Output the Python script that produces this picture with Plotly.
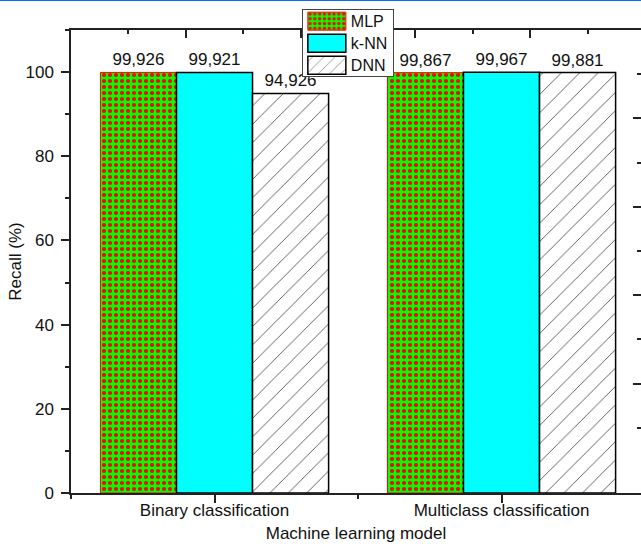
import plotly.graph_objects as go

# Recall (%) of each model for the two classification tasks
categories = ["Binary classification", "Multiclass classification"]
models = ["MLP", "k-NN", "DNN"]
recall = {
    "MLP": [99.926, 99.867],
    "k-NN": [99.921, 99.967],
    "DNN": [94.926, 99.881],
}

FONT = "Liberation Sans, Arial, sans-serif"
positions = list(range(len(categories)))

styles = {
    "MLP": dict(color="#00FF00",
                line=dict(color="#FF0000", width=1),
                pattern=dict(shape=".", fgcolor="#FF0000", bgcolor="#00FF00",
                             size=6, solidity=0.38, fillmode="replace")),
    "k-NN": dict(color="#00FFFF", line=dict(color="#000000", width=1.5)),
    "DNN": dict(color="#FFFFFF",
                line=dict(color="#000000", width=1.5),
                pattern=dict(shape="/", fgcolor="#555555", bgcolor="#FFFFFF",
                             size=13, solidity=0.07, fillmode="replace")),
}

fig = go.Figure()
for m in models:
    fig.add_trace(go.Bar(
        name=m, x=positions, y=recall[m],
        marker=styles[m],
        text=recall[m], texttemplate="%{y:.3f}", textposition="outside",
        textfont=dict(family=FONT, size=17, color="#111111"),
        cliponaxis=False,
    ))

# carrier trace so the top and right frame axes are drawn
fig.add_trace(go.Scatter(x=[None], y=[None], xaxis="x2", yaxis="y2",
                         showlegend=False, hoverinfo="skip"))

x_range = [-0.5, 1.486]

fig.update_layout(
    width=641, height=544,
    margin=dict(l=71, r=0, t=30, b=51),
    paper_bgcolor="white", plot_bgcolor="white",
    separators=",.",
    barmode="group", bargap=0.205, bargroupgap=0,
    font=dict(family=FONT, size=17, color="#111111"),
    showlegend=True,
    legend=dict(x=0.405, y=1.045, xanchor="left", yanchor="top",
                bgcolor="white", bordercolor="#444444", borderwidth=1,
                font=dict(family=FONT, size=16, color="#111111"),
                itemwidth=38, tracegroupgap=0),
    xaxis=dict(range=x_range, tickmode="array", tickvals=positions,
               ticktext=categories, ticks="outside", ticklen=8, tickwidth=1.5,
               tickcolor="#222222", showline=True, linecolor="#222222",
               linewidth=1.5, showgrid=False, zeroline=False,
               ticklabelstandoff=-7,
               minor=dict(tick0=-0.5, dtick=1, ticks="outside", ticklen=4,
                          tickwidth=1.5, tickcolor="#222222", showgrid=False),
               title=dict(text="Machine learning model", standoff=8,
                          font=dict(family=FONT, size=17)),
               tickfont=dict(family=FONT, size=17)),
    yaxis=dict(range=[0, 110], tickmode="linear", tick0=0, dtick=20,
               ticks="outside", ticklen=8, tickwidth=1.5, tickcolor="#222222",
               showline=True, linecolor="#222222", linewidth=1.5,
               showgrid=False, zeroline=False, ticklabelstandoff=4,
               minor=dict(dtick=10, ticks="outside", ticklen=4, tickwidth=1.5,
                          tickcolor="#222222", showgrid=False),
               title=dict(text="Recall (%)", standoff=0,
                          font=dict(family=FONT, size=17)),
               tickfont=dict(family=FONT, size=17)),
    xaxis2=dict(overlaying="x", side="top", anchor="y", range=x_range,
                tickmode="linear", tick0=-0.5, dtick=0.4, ticks="inside",
                ticklen=8, tickwidth=1.5, tickcolor="#222222",
                showticklabels=False, showline=True, linecolor="#222222",
                linewidth=1.5, showgrid=False, zeroline=False,
                minor=dict(tick0=-0.5, dtick=0.2, ticks="inside", ticklen=4,
                           tickwidth=1.5, tickcolor="#222222", showgrid=False)),
    yaxis2=dict(overlaying="y", side="right", anchor="x", range=[0, 110],
                tickmode="array", tickvals=[26, 47, 68, 89],
                ticks="inside", ticklen=8, tickwidth=1.5, tickcolor="#222222",
                showticklabels=False, showline=False, showgrid=False,
                zeroline=False,
                minor=dict(tickvals=[15.5, 36.5, 57.5, 78.5, 99.5],
                           ticks="inside", ticklen=4, tickwidth=1.5,
                           tickcolor="#222222", showgrid=False)),
    shapes=[dict(type="line", xref="paper", yref="paper",
                 x0=-0.2, x1=1.05, y0=1.065, y1=1.065,
                 line=dict(color="#0A6CF0", width=2))],
)

# long rectangular legend swatches and a tighter row pitch
legend_js = """
var gd = document.getElementById('{plot_id}');
var ROW = 22, TOP = 12, BOTTOM = 11;
function restyleLegend() {
  var legend = gd.querySelector('g.legend');
  if (!legend) return;
  legend.querySelectorAll('.legendpoints path').forEach(function (p) {
    p.setAttribute('d', 'M19,9H-19V-9H19Z');
  });
  var items = legend.querySelectorAll('g.traces');
  items.forEach(function (g, i) {
    var m = /translate\\(([-\\d.]+)[ ,]+([-\\d.]+)\\)/.exec(g.getAttribute('transform') || '');
    var x = m ? parseFloat(m[1]) : 0;
    g.setAttribute('transform', 'translate(' + x + ',' + (TOP + i * ROW) + ')');
  });
  var h = TOP + (items.length - 1) * ROW + BOTTOM;
  legend.querySelectorAll('rect.bg').forEach(function (r) {
    r.setAttribute('height', h);
  });
}
restyleLegend();
gd.on('plotly_afterplot', restyleLegend);
"""

fig.write_html("out.html", post_script=legend_js)
